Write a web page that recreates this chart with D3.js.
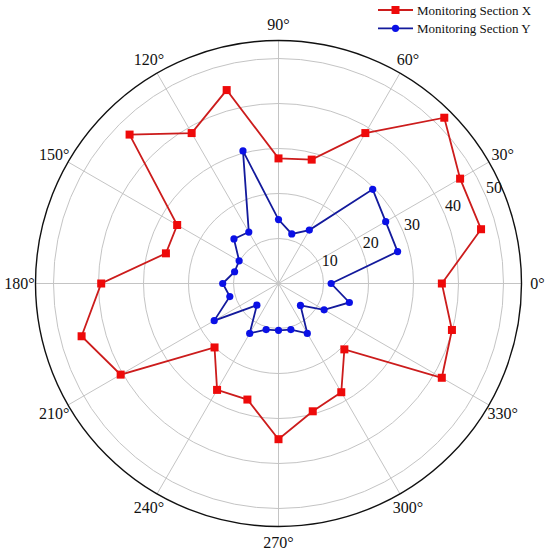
<!DOCTYPE html>
<html>
<head>
<meta charset="utf-8">
<script src="https://cdn.jsdelivr.net/npm/d3@7"></script>
<style>
  html, body { margin: 0; padding: 0; background: #fff; }
  svg { display: block; }
  svg text { font-family: "Liberation Serif", "Times New Roman", serif; }
</style>
</head>
<body>
<div id="chart"></div>
<script>
// bearing of each measurement, degrees (counter-clockwise from east)
const angles = [0, 15, 30, 45, 60, 75, 90, 105, 120, 135, 150, 165,
  180, 195, 210, 225, 240, 255, 270, 285, 300, 315, 330, 345]

const sectionX = [36.3, 46.6, 46.6, 52.1, 38.6, 28.5, 27.8, 44.5, 38.6, 46.8, 26.0, 25.9,
  39.4, 45.3, 40.5, 20.1, 27.3, 26.7, 34.6, 29.4, 27.9, 20.7, 41.9, 39.9]

const sectionY = [11.7, 27.4, 27.5, 29.6, 13.7, 11.4, 14.2, 30.5, 13.2, 14.0, 10.1, 10.1,
  12.4, 11.2, 16.5, 6.8, 12.8, 10.6, 10.4, 10.6, 12.8, 6.9, 11.7, 16.3]

const radialTicks = [10, 20, 30, 40, 50]
const angleTicks = [0, 30, 60, 90, 120, 150, 180, 210, 240, 270, 300, 330]
const seriesNames = ['Monitoring Section X', 'Monitoring Section Y']

const WIDTH = 550
const HEIGHT = 554
const CX = 278.5
const CY = 283.5
const R = 243
const R_MAX = 54
const FONT = 'Liberation Serif, Times New Roman, serif'

const svg = d3.select('#chart').append('svg')
  .attr('width', WIDTH)
  .attr('height', HEIGHT)

const r = d3.scaleLinear().domain([0, R_MAX]).range([0, R])
const rad = function (deg) { return deg * Math.PI / 180 }
const px = function (deg, rr) { return CX + rr * Math.cos(rad(deg)) }
const py = function (deg, rr) { return CY - rr * Math.sin(rad(deg)) }

const g = svg.append('g').attr('transform', 'translate(' + CX + ',' + CY + ')')

// grid rings
g.selectAll('circle.ring')
  .data(radialTicks)
  .enter().append('circle')
  .attr('class', 'ring')
  .attr('r', function (d) { return r(d) })
  .attr('fill', 'none')
  .attr('stroke', '#c4c4c4')
  .attr('stroke-width', 1)

// spokes
g.selectAll('line.spoke')
  .data(angleTicks)
  .enter().append('line')
  .attr('class', 'spoke')
  .attr('x1', 0)
  .attr('y1', 0)
  .attr('x2', function (d) { return r(R_MAX) * Math.cos(rad(d)) })
  .attr('y2', function (d) { return -r(R_MAX) * Math.sin(rad(d)) })
  .attr('stroke', '#c4c4c4')
  .attr('stroke-width', 1)

// outer frame
g.append('circle')
  .attr('r', r(R_MAX))
  .attr('fill', 'none')
  .attr('stroke', '#111')
  .attr('stroke-width', 1.4)

// angle labels
svg.selectAll('text.angle')
  .data(angleTicks)
  .enter().append('text')
  .attr('class', 'angle')
  .attr('x', function (d) { return px(d, R + 16) })
  .attr('y', function (d) { return py(d, R + 16) })
  .attr('text-anchor', 'middle')
  .attr('dominant-baseline', 'central')
  .attr('font-family', FONT)
  .attr('font-size', 16)
  .attr('fill', '#111')
  .text(function (d) { return d + '°' })

// radial labels
svg.selectAll('text.rlabel')
  .data(radialTicks)
  .enter().append('text')
  .attr('class', 'rlabel')
  .attr('x', function (d) { return px(24, r(d) + 11) })
  .attr('y', function (d) { return py(24, r(d) + 11) })
  .attr('text-anchor', 'middle')
  .attr('dominant-baseline', 'central')
  .attr('font-family', FONT)
  .attr('font-size', 16)
  .attr('fill', '#111')
  .text(function (d) { return d })

const line = d3.lineRadial()
  .angle(function (d) { return rad(90 - d.a) })
  .radius(function (d) { return r(d.v) })
  .curve(d3.curveLinearClosed)

const toPoints = function (values) {
  return angles.map(function (a, i) { return { a: a, v: values[i] } })
}

const xPts = toPoints(sectionX)
const yPts = toPoints(sectionY)

// Section X
g.append('path')
  .datum(xPts)
  .attr('d', line)
  .attr('fill', 'none')
  .attr('stroke', '#cc1c1c')
  .attr('stroke-width', 1.8)

g.selectAll('rect.mx')
  .data(xPts)
  .enter().append('rect')
  .attr('class', 'mx')
  .attr('x', function (d) { return r(d.v) * Math.cos(rad(d.a)) - 4 })
  .attr('y', function (d) { return -r(d.v) * Math.sin(rad(d.a)) - 4 })
  .attr('width', 8)
  .attr('height', 8)
  .attr('fill', '#ee0a0a')

// Section Y
g.append('path')
  .datum(yPts)
  .attr('d', line)
  .attr('fill', 'none')
  .attr('stroke', '#131a9c')
  .attr('stroke-width', 1.8)

g.selectAll('circle.my')
  .data(yPts)
  .enter().append('circle')
  .attr('class', 'my')
  .attr('cx', function (d) { return r(d.v) * Math.cos(rad(d.a)) })
  .attr('cy', function (d) { return -r(d.v) * Math.sin(rad(d.a)) })
  .attr('r', 3.6)
  .attr('fill', '#0a10e6')

// legend
const legend = svg.append('g').attr('transform', 'translate(378,10)')
const legendRows = legend.selectAll('g')
  .data(seriesNames)
  .enter().append('g')
  .attr('transform', function (d, i) { return 'translate(0,' + (i * 18.3) + ')' })

legendRows.append('line')
  .attr('x1', 0).attr('x2', 35).attr('y1', 0).attr('y2', 0)
  .attr('stroke', function (d, i) { return i === 0 ? '#cc1c1c' : '#131a9c' })
  .attr('stroke-width', 1.8)

legendRows.each(function (d, i) {
  const row = d3.select(this)
  if (i === 0) {
    row.append('rect').attr('x', 13.5).attr('y', -4).attr('width', 8).attr('height', 8).attr('fill', '#ee0a0a')
  } else {
    row.append('circle').attr('cx', 17.5).attr('cy', 0).attr('r', 3.6).attr('fill', '#0a10e6')
  }
})

legendRows.append('text')
  .attr('x', 39)
  .attr('y', 0)
  .attr('dominant-baseline', 'central')
  .attr('font-family', FONT)
  .attr('font-size', 13)
  .attr('fill', '#111')
  .text(function (d) { return d })
</script>
</body>
</html>
